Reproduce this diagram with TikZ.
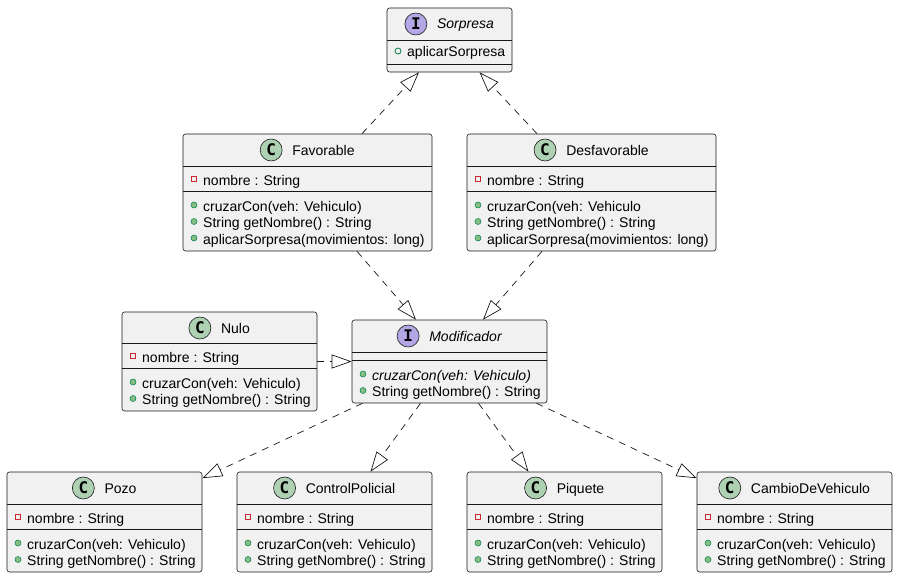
\documentclass[tikz,border=0pt]{standalone}
\usepackage{fontspec}
\setmainfont{Liberation Sans}
\newfontfamily\tagfont{DejaVu Sans Mono}
\usetikzlibrary{arrows.meta}

\definecolor{edge}{HTML}{181818}
\definecolor{boxfill}{HTML}{F1F1F1}
\definecolor{cfill}{HTML}{ADD1B2}
\definecolor{ifill}{HTML}{B4A7E5}
\definecolor{privred}{HTML}{C82930}
\definecolor{pubdark}{HTML}{038048}
\definecolor{pubfill}{HTML}{84BE84}

% class box: name, left, top, right, bottom, first separator, second separator
\newcommand\umlbox[7]{%
  \node[classbox, minimum width={#4-#2}, minimum height={#5-#3}] (#1) at ({(#2+#4)/2},{(#3+#5)/2}) {};
  \draw[sepline] (#2,#6) -- (#4,#6) (#2,#7) -- (#4,#7);
}
% header: name, box name, baseline, letter style, title style, letter, title
\newcommand\umlhead[7]{%
  \path (#2.north) ++(16pt,0) coordinate (#1tmp);
  \node[#5] (#1) at (#1tmp |- 0,#3) {#7};
  \node[#4] (#1icon) at ([xshift=-21pt,yshift=5pt]#1.base west) {#6};
}
% private field: name, box left, baseline, text
\newcommand\privrow[4]{%
  \node[privmark] (#1mark) at ({#2+11},{#3-7}) {};
  \node[member] (#1) at ({#2+20},#3) {#4};
}
% public method: name, box left, baseline, text
\newcommand\pubrow[4]{%
  \node[pubmark] (#1mark) at ({#2+11},{#3-6}) {};
  \node[member] (#1) at ({#2+20},#3) {#4};
}
% public field: name, box left, baseline, text
\newcommand\pubfieldrow[4]{%
  \node[pubfieldmark] (#1mark) at ({#2+11},{#3-6}) {};
  \node[member] (#1) at ({#2+20},#3) {#4};
}

\begin{document}
\begin{tikzpicture}[x=1pt,y=-1pt,
  classbox/.style={draw=edge, fill=boxfill, rounded corners=2.5pt, line width=0.6pt, inner sep=0pt},
  sepline/.style={draw=edge, line width=0.6pt},
  ctag/.style={circle, draw=edge, line width=0.6pt, fill=cfill, minimum size=22pt, inner sep=0pt,
    font=\tagfont\fontsize{16}{16}\selectfont\bfseries},
  itag/.style={ctag, fill=ifill},
  title/.style={anchor=base, inner sep=0pt, font=\fontsize{14}{16}\selectfont},
  ititle/.style={title, font=\fontsize{14}{16}\selectfont\itshape},
  member/.style={anchor=base west, inner sep=0pt, font=\fontsize{14}{16}\selectfont},
  imember/.style={member, font=\fontsize{14}{16}\selectfont\itshape},
  privmark/.style={rectangle, draw=privred, line width=1pt, minimum size=5pt, inner sep=0pt},
  pubmark/.style={circle, draw=pubdark, fill=pubfill, line width=0.5pt, minimum size=6pt, inner sep=0pt},
  pubfieldmark/.style={circle, draw=pubdark, line width=0.8pt, minimum size=6pt, inner sep=0pt},
  realize/.style={draw=edge, line width=0.7pt, dash pattern=on 7pt off 6pt,
    -{Triangle[open, length=20pt, width=14pt]}}
]
\useasboundingbox[fill=white] (0,0) rectangle (898,578);

% Sorpresa (interface)
\umlbox{sorp}{387}{8}{512}{72}{40}{64}
\umlhead{sorpT}{sorp}{29}{itag}{ititle}{I}{Sorpresa}
\pubfieldrow{sorpA}{387}{57}{aplicarSorpresa}

% Favorable
\umlbox{fav}{183}{134}{432}{251}{166}{191}
\umlhead{favT}{fav}{155}{ctag}{title}{C}{Favorable}
\privrow{favF}{183}{185.5}{nombre : String}
\pubrow{favM1}{183}{211}{cruzarCon(veh: Vehiculo)}
\pubrow{favM2}{183}{227.5}{String getNombre() : String}
\pubrow{favM3}{183}{244}{aplicarSorpresa(movimientos: long)}

% Desfavorable
\umlbox{desf}{467}{134}{716}{251}{166}{191}
\umlhead{desfT}{desf}{155}{ctag}{title}{C}{Desfavorable}
\privrow{desfF}{467}{185.5}{nombre : String}
\pubrow{desfM1}{467}{211}{cruzarCon(veh: Vehiculo}
\pubrow{desfM2}{467}{227.5}{String getNombre() : String}
\pubrow{desfM3}{467}{244}{aplicarSorpresa(movimientos: long)}

% Nulo
\umlbox{nulo}{122}{312}{317}{411}{343}{368}
\umlhead{nuloT}{nulo}{333}{ctag}{title}{C}{Nulo}
\privrow{nuloF}{122}{362.5}{nombre : String}
\pubrow{nuloM1}{122}{388}{cruzarCon(veh: Vehiculo)}
\pubrow{nuloM2}{122}{404.5}{String getNombre() : String}

% Modificador (interface)
\umlbox{modi}{352}{320}{547}{403}{352}{360}
\umlhead{modiT}{modi}{341}{itag}{ititle}{I}{Modificador}
\node[pubmark] (modiM1mark) at (363,374) {};
\node[imember] (modiM1) at (372,380) {cruzarCon(veh: Vehiculo)};
\pubrow{modiM2}{352}{396.5}{String getNombre() : String}

% Pozo
\umlbox{pozo}{7}{472}{202}{572}{504}{529}
\umlhead{pozoT}{pozo}{493}{ctag}{title}{C}{Pozo}
\privrow{pozoF}{7}{523.5}{nombre : String}
\pubrow{pozoM1}{7}{549}{cruzarCon(veh: Vehiculo)}
\pubrow{pozoM2}{7}{565.5}{String getNombre() : String}

% ControlPolicial
\umlbox{ctrl}{237}{472}{432}{572}{504}{529}
\umlhead{ctrlT}{ctrl}{493}{ctag}{title}{C}{ControlPolicial}
\privrow{ctrlF}{237}{523.5}{nombre : String}
\pubrow{ctrlM1}{237}{549}{cruzarCon(veh: Vehiculo)}
\pubrow{ctrlM2}{237}{565.5}{String getNombre() : String}

% Piquete
\umlbox{piq}{467}{472}{662}{572}{504}{529}
\umlhead{piqT}{piq}{493}{ctag}{title}{C}{Piquete}
\privrow{piqF}{467}{523.5}{nombre : String}
\pubrow{piqM1}{467}{549}{cruzarCon(veh: Vehiculo)}
\pubrow{piqM2}{467}{565.5}{String getNombre() : String}

% CambioDeVehiculo
\umlbox{camb}{697}{472}{892}{572}{504}{529}
\umlhead{cambT}{camb}{493}{ctag}{title}{C}{CambioDeVehiculo}
\privrow{cambF}{697}{523.5}{nombre : String}
\pubrow{cambM1}{697}{549}{cruzarCon(veh: Vehiculo)}
\pubrow{cambM2}{697}{565.5}{String getNombre() : String}

% realizations
\draw[realize] ([xshift=54.5pt]fav.north) -- ([xshift=-30.5pt]sorp.south);
\draw[realize] ([xshift=-54.5pt]desf.north) -- ([xshift=30pt]sorp.south);
\draw[realize] ([xshift=49.5pt]fav.south) -- ([xshift=-33.5pt]modi.north);
\draw[realize] ([xshift=-49.5pt]desf.south) -- ([xshift=33.5pt]modi.north);
\draw[realize] (nulo.east) -- (modi.west);
\draw[realize] ([xshift=-87pt]modi.south) -- ([yshift=-6.5pt]pozo.north east);
\draw[realize] ([xshift=-29pt]modi.south) -- ([xshift=36pt]ctrl.north);
\draw[realize] ([xshift=29pt]modi.south) -- ([xshift=-36pt]piq.north);
\draw[realize] ([xshift=87pt]modi.south) -- ([yshift=-6.5pt]camb.north west);
\end{tikzpicture}
\end{document}
